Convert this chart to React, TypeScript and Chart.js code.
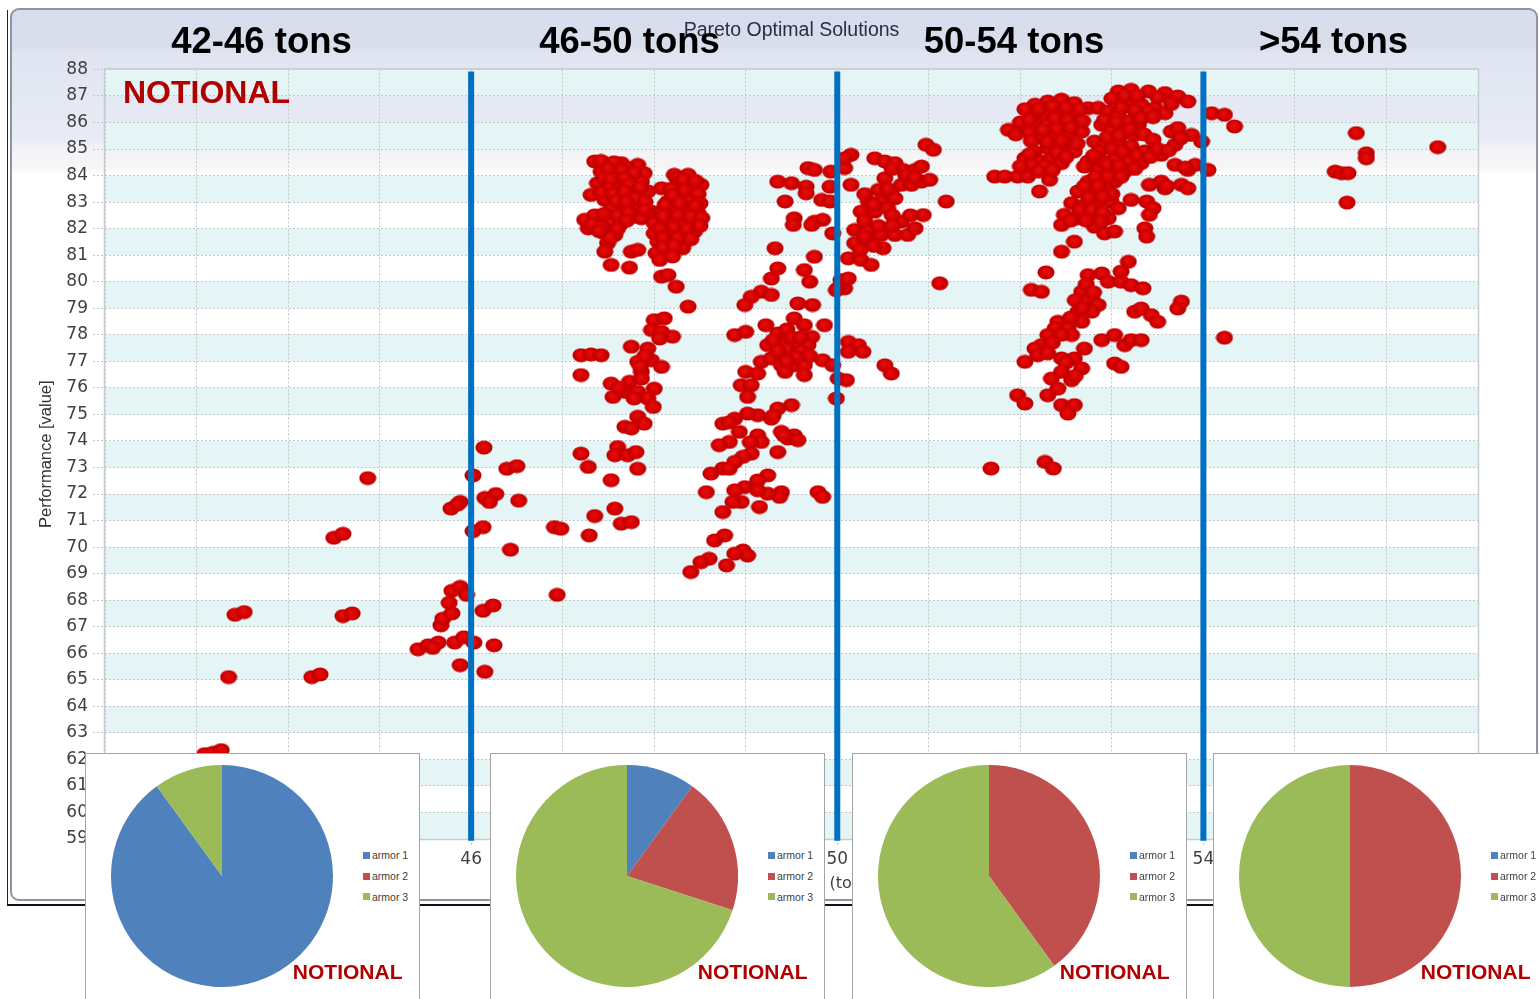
import React, { useEffect, useRef } from "react";
import { Chart, registerables } from "chart.js";

Chart.register(...registerables);

type Pt = [number, number];

// ---- data (x = vehicle weight in tons, y = performance value) ----
const tons42to46: Pt[] = [
  [43.09, 62.2], [43.18, 62.25], [43.27, 62.35], [43.35, 65.1], [43.42, 67.45], [43.52, 67.55],
  [44.26, 65.1], [44.35, 65.2], [44.6, 67.4], [44.7, 67.5], [44.5, 70.35], [44.6, 70.5], [44.87, 72.6],
  [45.42, 66.15], [45.53, 66.3], [45.64, 66.4], [45.58, 66.2], [45.82, 66.4], [45.92, 66.6], [45.88, 65.55],
  [45.67, 67.05], [45.69, 67.3], [45.79, 67.5], [45.76, 67.9], [45.79, 68.35], [45.88, 68.5], [45.95, 68.2],
  [45.78, 71.45], [45.88, 71.7], [45.85, 71.6],
];

const tons46to50: Pt[] = [
  [46.03, 66.4], [46.25, 66.3], [46.15, 65.3], [46.13, 67.6], [46.24, 67.8], [46.91, 70.75], [46.98, 70.69],
  [46.94, 68.2], [46.43, 69.9], [46.13, 70.75], [46.02, 70.6], [46.15, 71.85], [46.27, 72.0], [46.2, 71.7],
  [46.52, 71.75], [46.02, 72.7], [46.39, 72.95], [46.5, 73.05], [46.14, 73.75],
  [47.35, 84.53], [47.49, 84.4], [47.64, 84.47], [47.82, 84.4], [47.89, 84.09], [47.42, 84.15], [47.57, 84.03],
  [47.71, 84.03], [47.86, 83.77], [47.38, 83.71], [47.6, 83.71], [47.79, 83.52], [47.31, 83.27], [47.46, 83.08],
  [47.64, 83.21], [47.75, 83.27], [47.86, 83.27], [47.93, 83.4], [47.53, 82.77], [47.68, 82.77], [47.82, 82.83],
  [47.97, 82.64], [47.24, 82.33], [47.38, 82.26], [47.53, 82.26], [47.64, 82.2], [47.79, 82.45], [47.86, 82.39],
  [47.28, 82.01], [47.46, 81.82], [47.57, 81.76], [47.49, 81.45], [47.46, 81.13], [47.75, 81.13], [47.82, 81.2],
  [47.53, 80.63], [47.73, 80.53],
  [47.42, 84.55], [47.56, 84.5], [47.7, 84.3], [47.5, 84.25], [47.65, 84.2], [47.78, 84.1], [47.45, 83.9],
  [47.53, 83.85], [47.68, 83.9], [47.73, 83.65], [47.85, 83.55], [47.5, 83.5], [47.42, 83.35], [47.55, 83.3],
  [47.68, 83.4], [47.8, 83.1], [47.58, 83.05], [47.7, 82.98], [47.9, 83.0], [47.35, 82.5], [47.45, 82.55],
  [47.6, 82.5], [47.72, 82.6], [47.9, 82.7], [47.7, 82.3], [47.32, 82.15], [47.43, 82.05], [47.6, 82.0],
  [47.52, 81.65], [47.4, 81.9],
  [48.22, 84.03], [48.37, 84.03], [48.51, 83.65], [48.08, 83.52], [48.26, 83.65], [48.4, 83.52], [48.15, 83.02],
  [48.3, 83.14], [48.44, 83.08], [48.08, 82.64], [48.22, 82.77], [48.37, 82.77], [48.48, 82.58], [48.0, 82.2],
  [48.15, 82.26], [48.3, 82.2], [48.44, 82.26], [48.0, 81.82], [48.15, 81.82], [48.3, 81.76], [48.44, 81.89],
  [48.04, 81.51], [48.19, 81.51], [48.33, 81.51], [48.31, 81.26], [48.02, 81.07], [48.15, 81.01], [48.06, 80.82],
  [48.08, 80.19], [48.15, 80.25], [48.24, 79.81], [48.37, 79.06],
  [48.25, 83.9], [48.32, 83.85], [48.45, 83.8], [48.18, 83.5], [48.33, 83.45], [48.48, 83.3], [48.2, 83.25],
  [48.38, 83.0], [48.5, 82.95], [48.12, 82.9], [48.28, 82.95], [48.45, 82.85], [48.1, 82.45], [48.26, 82.5],
  [48.4, 82.45], [48.52, 82.4], [48.06, 82.0], [48.22, 82.05], [48.36, 82.0], [48.5, 82.1], [48.1, 81.65],
  [48.26, 81.65], [48.4, 81.6], [48.1, 81.3], [48.22, 81.35], [48.2, 80.95],
  [48.0, 78.55], [48.11, 78.62], [47.97, 78.18], [48.08, 78.11], [48.2, 77.93], [48.06, 77.86], [47.2, 77.23],
  [47.31, 77.26], [47.42, 77.23], [47.2, 76.48], [47.75, 77.55], [47.93, 77.48], [47.82, 76.98], [47.97, 77.04],
  [48.08, 76.79], [47.86, 76.6], [47.53, 76.16], [47.73, 76.23], [47.55, 75.66], [47.68, 75.85], [47.86, 76.35],
  [48.0, 75.97], [47.82, 75.85], [47.93, 75.6], [47.99, 75.28], [47.82, 74.91], [47.68, 74.53], [47.89, 74.65],
  [47.75, 74.47], [47.2, 73.52], [47.28, 73.02], [47.6, 73.77], [47.57, 73.46], [47.71, 73.46], [47.8, 73.58],
  [47.82, 72.95], [47.53, 72.52], [47.57, 71.45], [47.35, 71.17], [47.64, 70.88], [47.75, 70.94], [47.29, 70.44],
  [47.9, 77.2], [47.85, 76.8], [47.78, 75.6], [47.62, 76.0],
  [49.68, 84.28], [49.75, 84.21], [49.35, 83.77], [49.5, 83.71], [49.66, 83.58], [49.66, 83.33], [49.43, 83.02],
  [49.53, 82.39], [49.52, 82.14], [49.75, 82.26], [49.84, 82.33], [49.72, 82.14], [49.83, 83.08], [49.92, 83.02],
  [49.93, 84.15], [49.92, 83.58], [49.95, 81.82],
  [49.32, 81.26], [49.35, 80.5], [49.28, 80.12], [49.17, 79.62], [49.06, 79.43], [48.99, 79.12], [49.28, 79.5],
  [49.64, 80.44], [49.7, 80.0], [49.75, 80.94], [49.57, 79.18], [49.73, 79.12], [49.99, 79.68],
  [48.88, 77.99], [49.0, 78.11], [49.22, 78.36], [49.35, 78.05], [49.53, 78.62], [49.64, 78.36], [49.72, 77.92],
  [49.86, 78.36], [49.39, 77.61], [49.53, 77.61], [49.68, 77.61], [49.24, 77.61], [49.17, 76.98], [49.28, 77.11],
  [49.39, 77.23], [49.5, 77.36], [49.61, 77.36], [49.39, 76.85], [49.53, 76.85], [49.64, 76.85], [49.43, 76.6],
  [49.64, 76.48], [49.0, 76.6], [49.13, 76.54], [48.95, 76.1], [49.06, 76.1], [49.02, 75.66], [49.84, 77.04],
  [49.95, 76.85], [49.99, 75.6],
  [49.45, 78.2], [49.5, 77.9], [49.3, 77.8], [49.45, 77.45], [49.6, 77.9], [49.35, 77.4], [49.55, 77.15],
  [49.45, 77.0], [49.7, 77.2],
  [49.5, 75.35], [49.35, 75.22], [49.28, 74.84], [49.13, 74.97], [49.02, 75.03], [48.88, 74.84], [48.75, 74.65],
  [48.93, 74.34], [49.13, 74.21], [49.17, 73.96], [49.39, 74.34], [49.53, 74.21], [49.46, 74.09], [49.57, 74.03],
  [49.35, 73.58], [48.82, 73.96], [48.71, 73.84], [49.06, 73.52], [48.97, 73.4], [48.88, 73.21], [48.75, 72.96],
  [48.62, 72.77], [49.24, 72.7], [49.13, 72.51], [48.99, 72.26], [48.88, 72.14], [49.39, 72.07], [49.37, 71.89],
  [49.24, 72.01], [49.13, 72.14], [48.95, 71.7], [48.86, 71.7], [49.15, 71.51], [48.75, 71.32], [48.57, 72.07],
  [49.79, 72.07], [49.84, 71.89], [48.77, 70.44], [48.66, 70.25], [48.97, 69.87], [49.02, 69.68], [48.88, 69.75],
  [48.79, 69.31], [48.6, 69.56], [48.51, 69.43], [48.4, 69.06],
  [49.42, 74.2], [49.3, 74.95], [48.82, 74.7], [49.05, 73.95], [48.82, 72.95],
];

const tons50to54: Pt[] = [
  [50.08, 84.28], [50.15, 84.78], [50.08, 84.65], [50.15, 83.65], [50.08, 79.75], [50.04, 80.06], [50.01, 76.35],
  [50.1, 76.29], [50.12, 77.73], [50.23, 77.61], [50.28, 77.36], [50.12, 77.36], [50.52, 76.85], [50.59, 76.54],
  [50.41, 84.65], [50.52, 84.53], [50.63, 84.47], [50.72, 84.21], [50.85, 84.21], [50.92, 84.34], [50.97, 85.16],
  [51.05, 84.97], [50.52, 83.9], [50.45, 83.46], [50.59, 83.4], [50.7, 83.65], [50.81, 83.65], [50.92, 83.77],
  [51.01, 83.84], [50.34, 83.02], [50.48, 83.02], [50.63, 83.14], [50.26, 82.64], [50.41, 82.64], [50.55, 82.77],
  [50.7, 82.26], [50.19, 81.95], [50.34, 81.89], [50.48, 81.76], [50.63, 81.76], [50.77, 81.76], [50.85, 82.01],
  [50.19, 81.45], [50.34, 81.51], [50.5, 81.26], [50.12, 80.88], [50.26, 80.82], [50.37, 80.63], [50.12, 80.12],
  [50.01, 79.75], [50.94, 82.51], [51.19, 83.02], [51.12, 79.94],
  [50.3, 83.3], [50.55, 83.5], [50.4, 82.9], [50.6, 82.5], [50.3, 82.3], [50.45, 82.1], [50.6, 82.1],
  [50.8, 82.5], [50.25, 81.2], [50.4, 81.35], [50.75, 84.0], [50.85, 83.9], [50.6, 84.25], [50.3, 81.7],
  [52.16, 86.67], [52.3, 86.79], [52.45, 86.86], [52.59, 86.73], [52.74, 86.54], [52.12, 86.29], [52.27, 86.35],
  [52.41, 86.42], [52.56, 86.29], [51.87, 85.72], [52.01, 85.79], [52.16, 85.97], [52.3, 85.91], [52.45, 86.04],
  [52.59, 85.91], [52.67, 85.66], [52.23, 85.41], [52.38, 85.47], [52.52, 85.53], [52.3, 85.03], [52.45, 85.1],
  [52.59, 84.91], [52.05, 84.65], [52.19, 84.59], [52.34, 84.65], [52.45, 84.47], [52.12, 84.4], [52.27, 84.34],
  [51.72, 83.96], [51.83, 83.96], [51.97, 83.96], [52.08, 83.96], [52.32, 83.84], [52.21, 83.4],
  [52.05, 86.5], [52.2, 86.5], [52.35, 86.6], [52.5, 86.55], [52.65, 86.5], [52.85, 86.55], [52.0, 86.0],
  [52.1, 86.1], [52.38, 86.15], [52.52, 86.1], [52.68, 86.05], [51.95, 85.55], [52.1, 85.6], [52.25, 85.7],
  [52.4, 85.75], [52.55, 85.8], [52.12, 85.3], [52.3, 85.25], [52.45, 85.3], [52.62, 85.2], [52.15, 84.9],
  [52.4, 84.85], [52.5, 84.7], [52.0, 84.35], [52.2, 84.15], [52.35, 84.2], [52.1, 84.8],
  [53.07, 87.17], [53.21, 87.23], [53.4, 87.17], [53.58, 87.11], [53.72, 86.98], [53.83, 86.79], [53.18, 86.79],
  [53.32, 86.67], [53.47, 86.54], [53.58, 86.35], [52.96, 86.42], [53.07, 86.29], [53.18, 86.04], [53.29, 85.91],
  [52.89, 85.91], [52.99, 85.66], [53.14, 85.6], [53.25, 85.53], [52.81, 85.28], [52.92, 85.16], [53.07, 85.28],
  [53.21, 85.1], [53.36, 84.91], [53.47, 84.91], [53.54, 84.78], [52.74, 84.53], [52.89, 84.53], [53.03, 84.65],
  [53.18, 84.53], [53.32, 84.47], [52.7, 84.34], [52.85, 84.15], [52.99, 84.21], [53.14, 84.15], [52.74, 83.77],
  [52.89, 83.77], [53.03, 83.77], [52.63, 83.4], [52.78, 83.4], [52.92, 83.52], [52.56, 82.96], [52.7, 82.89],
  [52.85, 83.02], [52.99, 83.02], [53.07, 82.77], [52.48, 82.52], [52.63, 82.39], [52.81, 82.52], [52.96, 82.39],
  [52.45, 82.14], [52.81, 82.07], [52.92, 81.82], [53.03, 81.89], [53.21, 83.08], [53.38, 83.02], [53.45, 82.77],
  [53.41, 82.52], [53.36, 82.01], [53.38, 81.7], [53.41, 83.65], [53.54, 83.77], [53.58, 83.52], [53.65, 85.66],
  [53.72, 85.79], [53.87, 85.53], [53.98, 85.28], [53.69, 85.16], [53.69, 84.4], [53.83, 84.21], [53.91, 84.4],
  [53.76, 83.65], [53.83, 83.52],
  [53.0, 86.9], [53.14, 87.0], [53.28, 87.0], [53.5, 86.95], [53.65, 86.7], [53.4, 86.4], [53.25, 86.45],
  [53.1, 86.55], [52.92, 86.1], [53.05, 86.0], [53.32, 86.15], [53.45, 86.2], [52.95, 85.45], [53.08, 85.5],
  [53.2, 85.75], [53.35, 85.55], [53.45, 85.35], [52.86, 84.9], [53.0, 85.0], [53.12, 84.9], [53.28, 84.75],
  [53.42, 84.7], [52.8, 84.75], [52.95, 84.4], [53.08, 84.35], [53.25, 84.25], [52.82, 83.95], [52.96, 83.95],
  [53.1, 83.95], [52.7, 83.6], [52.85, 83.6], [53.0, 83.3], [52.75, 83.15], [52.9, 83.2], [52.65, 82.7],
  [52.78, 82.7], [52.9, 82.6], [52.55, 82.3], [52.72, 82.3], [52.88, 82.25], [53.5, 85.0], [53.62, 84.95],
  [53.75, 85.4], [53.8, 84.3], [53.6, 83.6],
  [52.59, 81.51], [52.45, 81.13], [52.28, 80.35], [52.74, 80.25], [52.89, 80.31], [52.96, 80.0], [53.1, 80.0],
  [53.21, 79.87], [53.34, 79.75], [53.18, 80.75], [53.1, 80.38], [52.12, 79.69], [52.23, 79.62], [52.67, 79.62],
  [52.78, 79.37], [52.7, 79.25], [52.85, 79.12], [52.63, 78.87], [52.78, 78.87], [52.67, 78.49], [52.41, 78.49],
  [52.52, 78.24], [52.38, 78.24], [52.3, 77.99], [52.56, 77.99], [52.23, 77.61], [52.16, 77.48], [52.05, 76.98],
  [52.19, 77.23], [52.45, 77.11], [52.59, 77.11], [52.7, 77.48], [52.67, 76.73], [52.56, 76.29], [52.34, 76.35],
  [52.41, 75.97], [52.3, 75.72], [51.97, 75.72], [52.05, 75.41], [52.45, 75.35], [52.59, 75.35], [52.52, 75.03],
  [52.89, 77.8], [53.03, 77.99], [53.14, 77.61], [53.21, 77.8], [53.32, 77.8], [53.03, 76.92], [53.1, 76.79],
  [53.25, 78.87], [53.32, 78.99], [53.43, 78.74], [53.5, 78.49], [53.76, 79.25], [53.72, 78.99],
  [52.72, 79.9], [52.8, 79.6], [52.6, 79.3], [52.68, 79.0], [52.55, 78.65], [52.45, 78.0], [52.35, 77.7],
  [52.3, 77.3], [52.5, 76.95], [52.45, 76.6], [52.6, 76.45],
  [51.68, 72.96], [52.27, 73.21], [52.36, 72.96],
];

const tonsOver54: Pt[] = [
  [54.05, 84.21], [54.09, 86.35], [54.23, 86.29], [54.34, 85.85], [54.23, 77.89], [55.67, 85.6], [55.78, 84.84],
  [55.78, 84.65], [55.44, 84.15], [55.51, 84.09], [55.58, 84.09], [55.57, 82.98], [56.56, 85.07],
];

const dividerTons = [46, 50, 54];
const classLabels = ["42-46 tons", "46-50 tons", "50-54 tons", ">54 tons"];
const armorLabels = ["armor 1", "armor 2", "armor 3"];
const armorShare42to46 = [90, 0, 10];
const armorShare46to50 = [10, 20, 70];
const armorShare50to54 = [0, 40, 60];
const armorShareOver54 = [0, 50, 50];
const armorColors = ["#4F81BD", "#C0504D", "#9BBB59"];

const X_MIN = 42;
const X_MAX = 57;
const Y_MIN = 59;
const Y_MAX = 88;

const GRID = "#c3c7ca";

function makeDot(): HTMLCanvasElement {
  const c = document.createElement("canvas");
  c.width = 18;
  c.height = 15;
  const g = c.getContext("2d")!;
  const grad = g.createRadialGradient(8, 6, 0.5, 9, 7.5, 9);
  grad.addColorStop(0, "#e80c0c");
  grad.addColorStop(0.6, "#d00000");
  grad.addColorStop(1, "#b20000");
  g.fillStyle = grad;
  g.beginPath();
  g.ellipse(9, 7.5, 8.5, 7, 0, 0, Math.PI * 2);
  g.fill();
  return c;
}

function ParetoChart() {
  const ref = useRef<HTMLCanvasElement>(null);
  useEffect(() => {
    if (!ref.current) return;
    const dot = makeDot();
    const toXY = (arr: Pt[]) => arr.map(([x, y]) => ({ x, y }));
    const pointSet = (label: string, arr: Pt[]) => ({
      label,
      data: toXY(arr),
      pointStyle: dot,
      pointRadius: 7,
      pointHoverRadius: 7,
      showLine: false,
      order: 2,
    });
    const dividers = dividerTons.map((t) => ({
      label: `${t} tons`,
      data: [
        { x: t, y: 87.92 },
        { x: t, y: 58.93 },
      ],
      showLine: true,
      borderColor: "#0070C0",
      backgroundColor: "#0070C0",
      borderWidth: 6,
      pointRadius: 0,
      pointHoverRadius: 0,
      clip: false,
      order: 0,
    }));

    const bands = {
      id: "bands",
      beforeDraw(chart: any) {
        const { ctx, chartArea: a, scales } = chart;
        const y = scales.y;
        ctx.save();
        ctx.fillStyle = "#e5f5f6";
        for (let v = Y_MIN; v < Y_MAX; v++) {
          if (v % 2 === 1) {
            const top = y.getPixelForValue(v + 1);
            const bot = y.getPixelForValue(v);
            ctx.fillRect(a.left, top, a.right - a.left, bot - top);
          }
        }
        ctx.restore();
      },
      beforeDatasetsDraw(chart: any) {
        const { ctx, chartArea: a } = chart;
        ctx.save();
        ctx.strokeStyle = "#c6cdd0";
        ctx.lineWidth = 1.5;
        ctx.strokeRect(a.left - 0.5, a.top - 0.5, a.right - a.left + 1, a.bottom - a.top + 1);
        ctx.restore();
      },
    };

    const chart = new Chart(ref.current, {
      type: "scatter",
      data: {
        datasets: [
          ...dividers,
          pointSet(classLabels[0], tons42to46),
          pointSet(classLabels[1], tons46to50),
          pointSet(classLabels[2], tons50to54),
          pointSet(classLabels[3], tonsOver54),
        ] as any,
      },
      options: {
        animation: false,
        responsive: false,
        events: [],
        layout: { padding: { left: 33, right: 61, top: 8, bottom: 6 } },
        plugins: {
          legend: { display: false },
          tooltip: { enabled: false },
          title: {
            display: true,
            text: "Pareto Optimal Solutions",
            fullSize: false,
            color: "#2a2d45",
            font: { family: "'Liberation Sans', Arial, sans-serif", size: 19.5, weight: "normal" },
            padding: { top: 11, bottom: 27 },
          },
        },
        scales: {
          x: {
            type: "linear",
            min: X_MIN,
            max: X_MAX,
            afterFit: (s: any) => {
              s.height = 60;
            },
            ticks: {
              stepSize: 1,
              autoSkip: false,
              maxRotation: 0,
              color: "#404040",
              padding: 3,
              font: { family: "'DejaVu Sans', sans-serif", size: 17 },
            },
            grid: {
              color: GRID,
              lineWidth: 1,
              tickLength: 7,
              tickColor: GRID,
              tickBorderDash: [2, 2],
            },
            border: { display: false, dash: [2, 2] },
            title: {
              display: true,
              text: "Vehicle Weight (tons)",
              color: "#404040",
              font: { family: "'DejaVu Sans', sans-serif", size: 16 },
              padding: { top: 4, bottom: 6 },
            },
          },
          y: {
            type: "linear",
            min: Y_MIN,
            max: Y_MAX,
            afterFit: (s: any) => {
              s.width = 72;
            },
            ticks: {
              stepSize: 1,
              autoSkip: false,
              color: "#404040",
              padding: 5,
              font: { family: "'DejaVu Sans', sans-serif", size: 17 },
            },
            grid: {
              color: GRID,
              lineWidth: 1,
              tickLength: 12,
              tickColor: GRID,
              tickBorderDash: [2, 2],
            },
            border: { display: false, dash: [2, 2] },
            title: {
              display: true,
              text: "Performance [value]",
              color: "#333333",
              font: { family: "'Liberation Sans', Arial, sans-serif", size: 16.5 },
              padding: { top: 4, bottom: 4 },
            },
          },
        },
      } as any,
      plugins: [bands],
    });
    return () => chart.destroy();
  }, []);
  return (
    <canvas
      ref={ref}
      width={1539}
      height={905}
      style={{ position: "absolute", left: 0, top: 0, width: 1539, height: 905 }}
    />
  );
}

function ArmorPie({ left, values }: { left: number; values: number[] }) {
  const ref = useRef<HTMLCanvasElement>(null);
  useEffect(() => {
    if (!ref.current) return;
    const chart = new Chart(ref.current, {
      type: "pie",
      data: {
        labels: armorLabels,
        datasets: [
          {
            data: values,
            backgroundColor: armorColors,
            borderWidth: 0,
            hoverBorderWidth: 0,
            hoverOffset: 0,
          },
        ],
      },
      options: {
        animation: false,
        responsive: false,
        events: [],
        layout: { padding: 0 },
        plugins: { legend: { display: false }, tooltip: { enabled: false } },
      } as any,
    });
    return () => chart.destroy();
  }, [values]);
  const b = 1.5;
  return (
    <div
      style={{
        position: "absolute",
        left,
        top: 753,
        width: 335,
        height: 260,
        background: "#ffffff",
        border: `${b}px solid #a4a4a4`,
        boxSizing: "border-box",
      }}
    >
      <canvas
        ref={ref}
        width={222}
        height={222}
        style={{ position: "absolute", left: 137 - 111 - b, top: 123 - 111 - b, width: 222, height: 222 }}
      />
      {armorLabels.map((lab, i) => (
        <div key={lab}>
          <div
            style={{
              position: "absolute",
              left: 278 - b,
              top: 99.2 + i * 20.8 - b,
              width: 7,
              height: 7,
              background: armorColors[i],
            }}
          />
          <div
            style={{
              position: "absolute",
              left: 287.5 - b,
              top: 96.7 + i * 20.8 - b,
              font: "10.5px 'Liberation Sans', Arial, sans-serif",
              lineHeight: "12px",
              color: "#404040",
              whiteSpace: "nowrap",
            }}
          >
            {lab}
          </div>
        </div>
      ))}
      <div
        style={{
          position: "absolute",
          right: 18 - b,
          top: 208 - b,
          font: "bold 21px 'Liberation Sans', Arial, sans-serif",
          lineHeight: "21px",
          color: "#B00000",
          whiteSpace: "nowrap",
        }}
      >
        NOTIONAL
      </div>
    </div>
  );
}

const headingCenters = [261.5, 629.5, 1014, 1333.5];

export default function App() {
  return (
    <div
      style={{
        position: "absolute",
        left: 0,
        top: 0,
        width: 1539,
        height: 999,
        overflow: "hidden",
        background: "#ffffff",
      }}
    >
      <div
        style={{
          position: "absolute",
          left: 7,
          top: 10,
          width: 1540,
          height: 896,
          borderLeft: "1.5px solid #222",
          borderBottom: "2px solid #111",
          boxSizing: "border-box",
        }}
      />
      <div
        style={{
          position: "absolute",
          left: 10,
          top: 8,
          width: 1528,
          height: 893,
          border: "2px solid #8e95a2",
          borderRadius: 9,
          boxSizing: "border-box",
          background:
            "linear-gradient(to bottom, #d7ddec 0px, #d9deed 38px, #e0e4f1 42px, #e5e9f4 95px, #e8ebf5 128px, #f3f3f6 138px, #f6f6f7 158px, #ffffff 164px, #ffffff 100%)",
        }}
      />
      <ParetoChart />
      {classLabels.map((lab, i) => (
        <div
          key={lab}
          style={{
            position: "absolute",
            left: headingCenters[i],
            top: 22.5,
            transform: "translateX(-50%)",
            font: "bold 36.5px 'Liberation Sans', Arial, sans-serif",
            lineHeight: "36px",
            color: "#000",
            whiteSpace: "nowrap",
          }}
        >
          {lab}
        </div>
      ))}
      <div
        style={{
          position: "absolute",
          left: 123,
          top: 76,
          font: "bold 32px 'Liberation Sans', Arial, sans-serif",
          lineHeight: "32px",
          color: "#B00000",
          whiteSpace: "nowrap",
        }}
      >
        NOTIONAL
      </div>
      <ArmorPie left={85} values={armorShare42to46} />
      <ArmorPie left={490} values={armorShare46to50} />
      <ArmorPie left={852} values={armorShare50to54} />
      <ArmorPie left={1213} values={armorShareOver54} />
    </div>
  );
}
